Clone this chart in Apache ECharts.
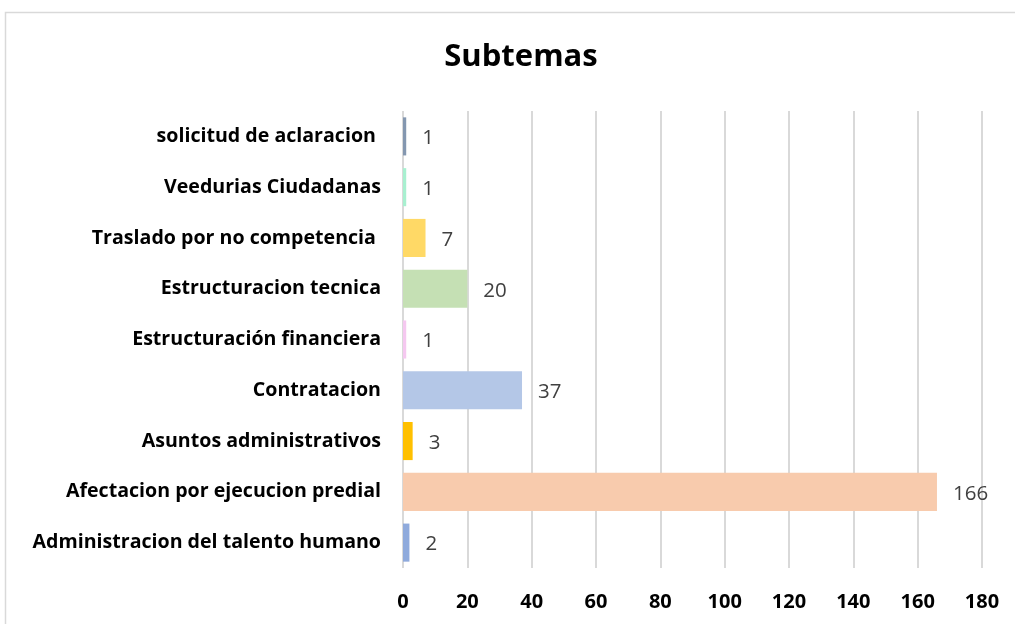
<!DOCTYPE html>
<html>
<head>
<meta charset="utf-8">
<script src="https://cdn.jsdelivr.net/npm/echarts@6/dist/echarts.min.js"></script>
<style>
html,body{margin:0;padding:0;background:#fff;}
#chart{width:1015px;height:624px;}
</style>
</head>
<body>
<div id="chart"></div>
<script>
const categories = [
  "Administracion del talento humano",
  "Afectacion por ejecucion predial",
  "Asuntos administrativos",
  "Contratacion",
  "Estructuración financiera",
  "Estructuracion tecnica",
  "Traslado por no competencia ",
  "Veedurias Ciudadanas",
  "solicitud de aclaracion "
];
const values = [2, 166, 3, 37, 1, 20, 7, 1, 1];
const barColors = ["#8FAADC", "#F8CBAD", "#FFC000", "#B4C7E7", "#F5C8F0", "#C5E0B4", "#FFD966", "#A8F0D0", "#8497B0"];
const xTicks = [0, 20, 40, 60, 80, 100, 120, 140, 160, 180];

const chart = echarts.init(document.getElementById('chart'), null, {renderer: 'canvas'});
const font = '"Open Sans", "Noto Sans", sans-serif';
chart.setOption({
  animation: false,
  graphic: [{
    type: 'rect',
    shape: {x: 5.5, y: 12.5, width: 1200, height: 800},
    style: {fill: null, stroke: '#d9d9d9', lineWidth: 1.5},
    silent: true
  }],
  title: {
    text: 'Subtemas',
    left: 516, top: 37, textAlign: 'center',
    textStyle: {fontFamily: font, fontWeight: 'bold', fontSize: 31, color: '#000'}
  },
  grid: {left: 403, right: 33, top: 111, bottom: 56, containLabel: false},
  xAxis: {
    type: 'value', min: xTicks[0], max: xTicks[xTicks.length - 1], interval: 20,
    axisLine: {show: false}, axisTick: {show: false},
    splitLine: {show: true, lineStyle: {color: '#d9d9d9', width: 2}},
    axisLabel: {margin: 24, fontFamily: font, fontWeight: 'bold', fontSize: 20, color: '#000'}
  },
  yAxis: {
    type: 'category', data: categories,
    axisLine: {show: false}, axisTick: {show: false},
    axisLabel: {margin: 22, fontFamily: font, fontWeight: 'bold', fontSize: 19.6, color: '#000'}
  },
  series: [{
    type: 'bar',
    data: values.map((v, i) => ({value: v, itemStyle: {color: barColors[i]}})),
    barWidth: '75%',
    label: {show: true, position: 'right', distance: 16, offset: [0, 2], fontFamily: font, fontSize: 20.5, color: '#404040'}
  }]
});
</script>
</body>
</html>
